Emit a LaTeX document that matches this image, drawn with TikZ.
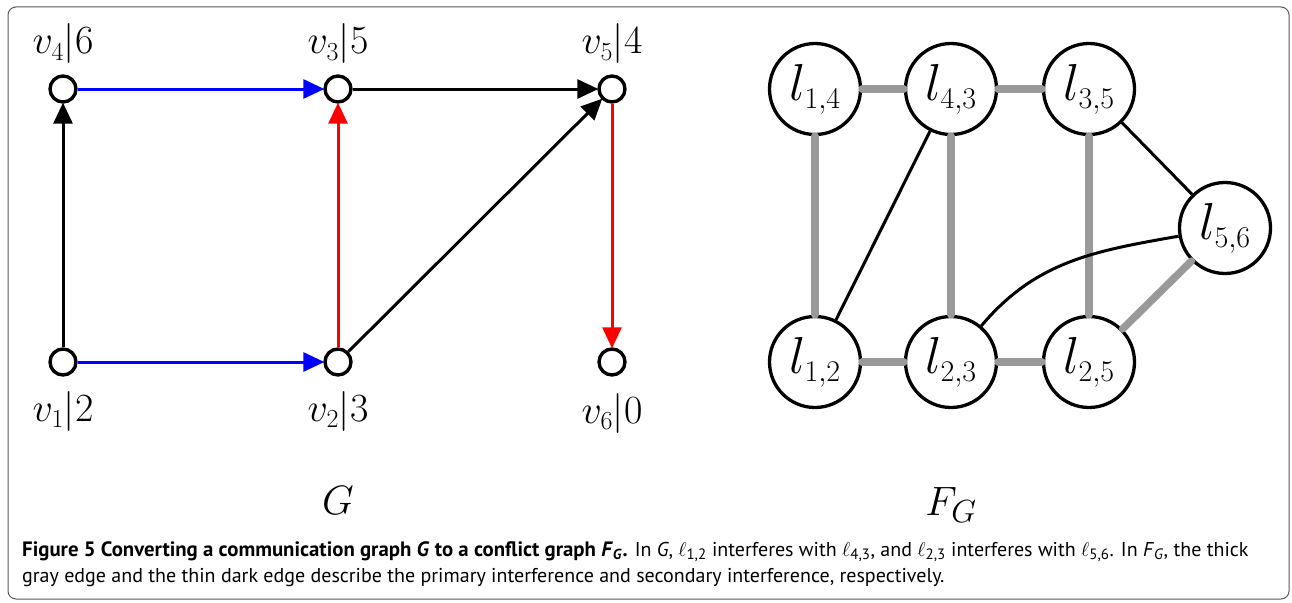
\RequirePackage{fix-cm}
\documentclass[tikz,border=0pt]{standalone}
\usepackage{fontspec}
\setsansfont{PT Sans}
\usetikzlibrary{arrows.meta}
\DeclareMathSizes{40}{40}{26}{19}
\DeclareMathSizes{52}{52}{30}{22}
\DeclareMathSizes{41}{41}{32}{24}
\DeclareMathSizes{20}{20}{15}{11}
\tikzset{
  vtx/.style={circle, draw=black, line width=3.4pt, fill=white, minimum size=26pt, inner sep=0pt},
  vlab/.style={font=\fontsize{40}{44}\selectfont, inner sep=0pt, anchor=base},
  glab/.style={font=\fontsize{41}{45}\selectfont, inner sep=0pt, anchor=base},
  lnode/.style={circle, draw=black, line width=3.3pt, fill=white, minimum size=91pt, inner sep=0pt, font=\fontsize{52}{56}\selectfont},
  garr/.style={line width=3pt, -{Triangle[length=21pt,width=19pt]}, shorten >=-1pt},
  prim/.style={line width=7.5pt, draw={rgb,255:red,153;green,153;blue,153}, line cap=round},
  sec/.style={line width=3pt, draw=black},
  capfont/.style={font=\sffamily\fontsize{20}{24}\selectfont, inner sep=0pt},
}
\newcommand{\capbold}[1]{{\fontsize{20.8}{24}\selectfont\bfseries #1}}
\begin{document}
\begin{tikzpicture}[x=1pt,y=-1pt]
\useasboundingbox (0,0) rectangle (1292,602);
\draw[line width=1pt, draw=black!65, rounded corners=8pt] (8,7) rectangle (1289,599);

% graph G
\node[vtx] (v4) at (63,89) {};
\node[vtx] (v3) at (338,89) {};
\node[vtx] (v5) at (612,89) {};
\node[vtx] (v1) at (63,362) {};
\node[vtx] (v2) at (338,362) {};
\node[vtx] (v6) at (612,362) {};
\node[vlab] (lv4) at (63,54) {$v_4|6$};
\node[vlab] (lv3) at (338,54) {$v_3|5$};
\node[vlab] (lv5) at (612,54) {$v_5|4$};
\node[vlab] (lv1) at (63,421) {$v_1|2$};
\node[vlab] (lv2) at (338,421) {$v_2|3$};
\node[vlab] (lv6) at (612,423) {$v_6|0$};

\draw[garr, blue] (v4) -- (v3);
\draw[garr, blue] (v1) -- (v2);
\draw[garr, black] (v1) -- (v4);
\draw[garr, red] (v2) -- (v3);
\draw[garr, black] (v3) -- (v5);
\draw[garr, black] (v2) -- (v5);
\draw[garr, red] (v5) -- (v6);

\node[glab] (G) at (338,514) {$G$};

% conflict graph F_G
\node[lnode] (l14) at (815,89) {$l_{1,4}$};
\node[lnode] (l43) at (951,89) {$l_{4,3}$};
\node[lnode] (l35) at (1089,89) {$l_{3,5}$};
\node[lnode] (l56) at (1225,228) {$l_{5,6}$};
\node[lnode] (l12) at (815,362) {$l_{1,2}$};
\node[lnode] (l23) at (951,362) {$l_{2,3}$};
\node[lnode] (l25) at (1089,362) {$l_{2,5}$};

\draw[prim] (l14) -- (l43);
\draw[prim] (l43) -- (l35);
\draw[prim] (l14) -- (l12);
\draw[prim] (l43) -- (l23);
\draw[prim] (l35) -- (l25);
\draw[prim] (l12) -- (l23);
\draw[prim] (l23) -- (l25);
\draw[prim] (l25) -- (l56);
\draw[sec] (l43) -- (l12);
\draw[sec] (l35) -- (l56);
\draw[sec] (l23) to[out=50, in=190] (l56);

\node[glab] (FG) at (951,515) {$F_G$};

% caption
\node[capfont, anchor=base west] (cap1) at (22,556) {\capbold{Figure 5 Converting a communication graph \textit{G} to a conflict graph \textit{F}\textsubscript{\textit{G}}.} In \textit{G}, $\ell$\textsubscript{1,2} interferes with $\ell$\textsubscript{4,3}, and $\ell$\textsubscript{2,3} interferes with $\ell$\textsubscript{5,6}. In \textit{F}\textsubscript{\textit{G}}, the thick};
\node[capfont, anchor=base west] (cap2) at (22,582) {gray edge and the thin dark edge describe the primary interference and secondary interference, respectively.};
\end{tikzpicture}
\end{document}
